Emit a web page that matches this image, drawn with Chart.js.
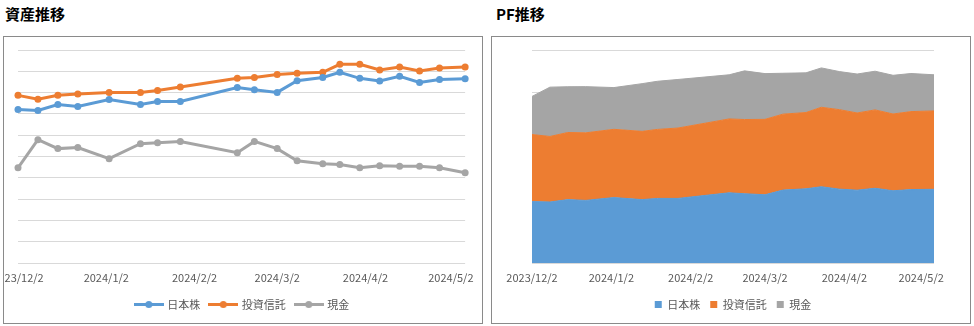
<!DOCTYPE html>
<html>
<head>
<meta charset="utf-8">
<script src="https://cdn.jsdelivr.net/npm/chart.js@4"></script>
<style>
  body { margin: 0; background: #fff; width: 974px; height: 326px; position: relative; overflow: hidden; }
  .title { position: absolute; top: 6px; font: bold 15px "Noto Sans CJK JP", sans-serif; line-height: 15px; color: #000; }
  .box { position: absolute; top: 36px; width: 478px; height: 286px; border: 1px solid #8a8a8a; overflow: hidden; }
  .box canvas { position: absolute; top: 0; }
</style>
</head>
<body>
<div class="title" style="left:5px">資産推移</div>
<div class="title" style="left:496px">PF推移</div>
<!-- 左端の目盛りラベルは枠で切れるので、キャンバスを左にはみ出させる -->
<div class="box" style="left:3px"><canvas id="assetChart" width="508" height="286" style="left:-30px"></canvas></div>
<div class="box" style="left:491px"><canvas id="pfChart" width="478" height="286" style="left:0"></canvas></div>
<script>
// データ（単位は任意、軸目盛りは非表示）
const dates = ['2023-12-02', '2023-12-09', '2023-12-16', '2023-12-23', '2024-01-03', '2024-01-14',
  '2024-01-20', '2024-01-28', '2024-02-17', '2024-02-23', '2024-03-02', '2024-03-09', '2024-03-18',
  '2024-03-24', '2024-03-31', '2024-04-07', '2024-04-14', '2024-04-21', '2024-04-28', '2024-05-07'];
const nihonkabu = [721, 716, 744, 735, 768, 744, 758, 758, 824, 813, 801, 856, 871, 895, 867, 855, 877, 848, 862, 865];
const toushin = [787, 769, 788, 793, 801, 801, 810, 826, 867, 871, 885, 891, 895, 933, 933, 906, 920, 901, 915, 920];
const genkin = [447, 579, 537, 542, 490, 560, 565, 570, 518, 571, 537, 480, 466, 462, 447, 457, 454, 454, 447, 424];
const seriesNames = ['日本株', '投資信託', '現金'];
const tickLabels = ['2023/12/2', '2024/1/2', '2024/2/2', '2024/3/2', '2024/4/2', '2024/5/2'];

const colors = ['#5B9BD5', '#ED7D31', '#A5A5A5'];
const FONT = '"Noto Sans CJK JP", sans-serif';

// 日付 → 起点からの日数
const t0 = Date.parse(dates[0]);
const toDay = s => (Date.parse(s) - t0) / 86400000;
const labelDay = s => {
  const [y, m, d] = s.split('/').map(Number);
  return (Date.UTC(y, m - 1, d) - t0) / 86400000;
};
const xs = dates.map(toDay);
const tickDays = tickLabels.map(labelDay);
const toPoints = arr => arr.map((v, i) => ({ x: xs[i], y: v }));

function xAxis() {
  return {
    type: 'linear',
    min: xs[0],
    max: xs[xs.length - 1],
    grid: { display: false, drawTicks: false },
    border: { display: false },
    afterBuildTicks: scale => { scale.ticks = tickDays.map(v => ({ value: v })); },
    afterFit: scale => { scale.height = 26; },
    ticks: {
      autoSkip: false, maxRotation: 0, padding: 8, color: '#595959',
      font: { family: FONT, size: 11 },
      callback: (v) => { const i = tickDays.indexOf(v); return i >= 0 ? tickLabels[i] : ''; }
    }
  };
}

// 凡例用の線＋マーカー
function lineMarker(color) {
  const c = document.createElement('canvas');
  c.width = 30; c.height = 9;
  const g = c.getContext('2d');
  g.strokeStyle = color; g.lineWidth = 3;
  g.beginPath(); g.moveTo(0, 4.5); g.lineTo(30, 4.5); g.stroke();
  g.fillStyle = color;
  g.beginPath(); g.arc(15, 4.5, 3.5, 0, Math.PI * 2); g.fill();
  return c;
}

Chart.defaults.font.family = FONT;
Chart.defaults.color = '#595959';

const assetValues = [nihonkabu, toushin, genkin];

new Chart(document.getElementById('assetChart'), {
  type: 'line',
  data: {
    datasets: assetValues.map((vals, i) => ({
      label: seriesNames[i],
      data: toPoints(vals),
      borderColor: colors[i],
      backgroundColor: colors[i],
      borderWidth: 3,
      pointRadius: 3.5,
      pointBorderWidth: 0,
      pointBackgroundColor: colors[i],
      tension: 0,
      clip: false
    }))
  },
  options: {
    responsive: false,
    animation: false,
    layout: { padding: { left: 44, right: 15, top: 13, bottom: 3 } },
    plugins: {
      tooltip: { enabled: false },
      legend: {
        position: 'bottom',
        // キャンバスが左に30pxはみ出しているので、凡例の中心を枠に合わせる
        align: 'center',
        labels: {
          usePointStyle: true,
          pointStyleWidth: 26,
          padding: 10,
          color: '#595959',
          font: { family: FONT, size: 11 },
          generateLabels: chart => Chart.defaults.plugins.legend.labels.generateLabels(chart)
            .map((l, i) => Object.assign(l, { pointStyle: lineMarker(colors[i]) }))
        }
      }
    },
    scales: {
      x: xAxis(),
      y: {
        min: 0, max: 1000,
        ticks: { display: false, stepSize: 100 },
        grid: { color: '#d9d9d9', lineWidth: 1, drawTicks: false },
        border: { display: false }
      }
    }
  }
});

new Chart(document.getElementById('pfChart'), {
  type: 'line',
  data: {
    datasets: assetValues.map((vals, i) => ({
      label: seriesNames[i],
      data: toPoints(vals),
      borderColor: colors[i],
      backgroundColor: colors[i],
      borderWidth: 1,
      pointRadius: 0,
      tension: 0,
      fill: i === 0 ? 'origin' : '-1'
    }))
  },
  options: {
    responsive: false,
    animation: false,
    layout: { padding: { left: 40, right: 36, top: 13, bottom: 3 } },
    plugins: {
      tooltip: { enabled: false },
      legend: {
        position: 'bottom',
        labels: {
          boxWidth: 7, boxHeight: 7,
          padding: 10,
          color: '#595959',
          font: { family: FONT, size: 11 },
          generateLabels: chart => Chart.defaults.plugins.legend.labels.generateLabels(chart)
            .map(l => Object.assign(l, { lineWidth: 0, strokeStyle: 'rgba(0,0,0,0)' }))
        }
      }
    },
    scales: {
      x: xAxis(),
      y: {
        stacked: true,
        min: 0, max: 2500,
        ticks: { display: false, stepSize: 500 },
        grid: { color: '#d9d9d9', lineWidth: 1, drawTicks: false },
        border: { display: false }
      }
    }
  }
});
</script>
</body>
</html>
